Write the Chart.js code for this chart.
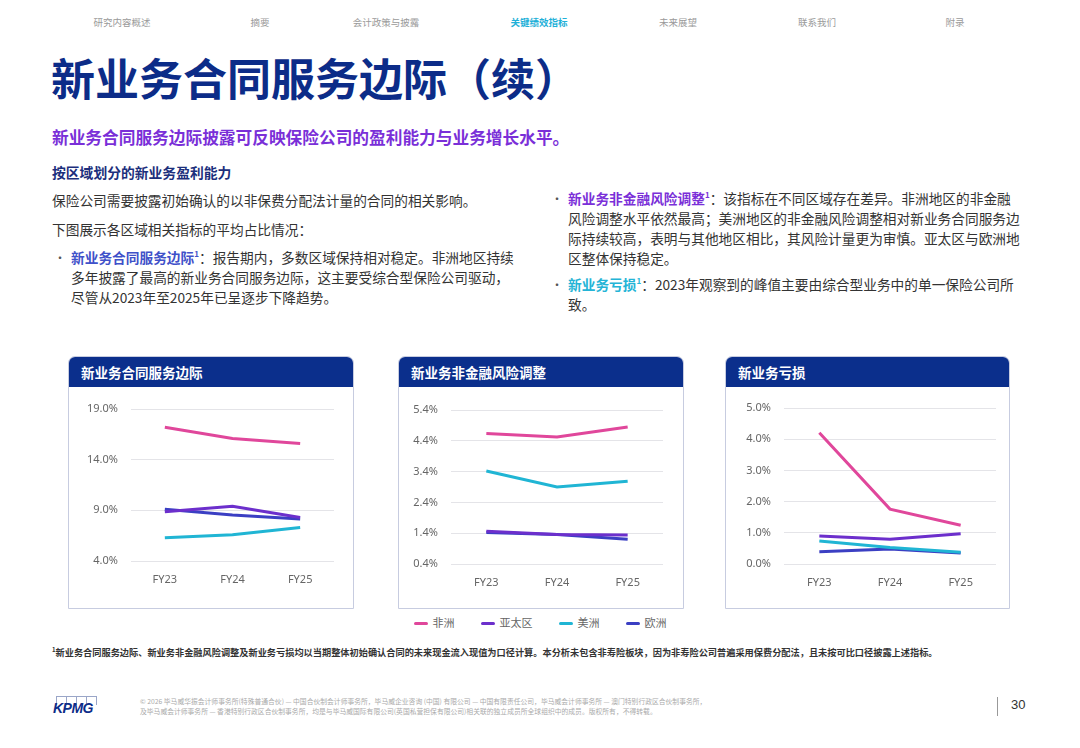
<!DOCTYPE html>
<html>
<head>
<meta charset="utf-8">
<script src="https://cdn.jsdelivr.net/npm/chart.js@4.4.1/dist/chart.umd.min.js"></script>
<style>
  html, body { margin: 0; padding: 0; background: #fff; }
  body { width: 1080px; height: 748px; position: relative; overflow: hidden;
         font-family: "Noto Sans CJK SC", "Noto Sans", sans-serif; color: #333; }
  .abs { position: absolute; white-space: nowrap; }
  .nav { top: 15px; font-size: 9.5px; color: #9a9a9a; transform: translateX(-50%); }
  .nav.on { color: #1eb0d8; font-weight: bold; }
  h1 { position: absolute; left: 51px; top: 45px; margin: 0; font-size: 44px; font-weight: bold;
       color: #0c2c88; }
  .sub { left: 52px; top: 125px; font-size: 16.7px; font-weight: bold; color: #7a2fd8; }
  .h3 { left: 52px; top: 162px; font-size: 13.8px; font-weight: bold; color: #1c2f7c; }
  .txt { font-size: 13.7px; line-height: 20px; color: #333; }
  .dot { position: absolute; font-size: 12px; color: #555; }
  .blue { color: #3f51c9; font-weight: bold; }
  .purp { color: #7a2fd8; font-weight: bold; }
  .cyan { color: #24b4d6; font-weight: bold; }
  sup { font-size: 8px; vertical-align: 6px; line-height: 0; }
  .card { position: absolute; top: 356px; height: 251px; border: 1px solid #c7cce0;
          border-radius: 7px 7px 0 0; background: #fff; }
  .card .hd { height: 30px; background: #0b2f8c; border-radius: 6px 6px 0 0; color: #fff;
              font-size: 13.5px; font-weight: bold; line-height: 30px; padding-left: 12px; }
  .card canvas { position: absolute; left: 0; top: 31px; }
  #legend { left: 0; width: 1080px; top: 614px; text-align: center; font-size: 11px; color: #666; }
  #legend span.it { display: inline-block; margin: 0 13px; }
  #legend i { display: inline-block; width: 14px; height: 3px; border-radius: 2px; vertical-align: middle; margin-right: 5px; position: relative; top: -1px; }
  .foot { left: 52px; top: 645px; font-size: 9.2px; color: #333; font-weight: bold; }
  .legal { left: 140px; font-size: 6.8px; color: #aaa; }
</style>
</head>
<body>
<div class="abs nav" style="left:122px">研究内容概述</div>
<div class="abs nav" style="left:260px">摘要</div>
<div class="abs nav" style="left:386px">会计政策与披露</div>
<div class="abs nav on" style="left:539px">关键绩效指标</div>
<div class="abs nav" style="left:678px">未来展望</div>
<div class="abs nav" style="left:817px">联系我们</div>
<div class="abs nav" style="left:955px">附录</div>

<h1>新业务合同服务边际（续）</h1>
<div class="abs sub">新业务合同服务边际披露可反映保险公司的盈利能力与业务增长水平。</div>
<div class="abs h3">按区域划分的新业务盈利能力</div>
<div class="abs txt" style="left:52px; top:190px">保险公司需要披露初始确认的以非保费分配法计量的合同的相关影响。</div>
<div class="abs txt" style="left:52px; top:219px">下图展示各区域相关指标的平均占比情况：</div>
<div class="dot" style="left:54px; top:249px">•</div>
<div class="abs txt" style="left:71px; top:247px"><span class="blue">新业务合同服务边际<sup>1</sup></span>：报告期内，多数区域保持相对稳定。非洲地区持续<br>多年披露了最高的新业务合同服务边际，这主要受综合型保险公司驱动，<br>尽管从2023年至2025年已呈逐步下降趋势。</div>

<div class="dot" style="left:551px; top:190px">•</div>
<div class="abs txt" style="left:568px; top:188px"><span class="purp">新业务非金融风险调整<sup>1</sup></span>：该指标在不同区域存在差异。非洲地区的非金融<br>风险调整水平依然最高；美洲地区的非金融风险调整相对新业务合同服务边<br>际持续较高，表明与其他地区相比，其风险计量更为审慎。亚太区与欧洲地<br>区整体保持稳定。</div>
<div class="dot" style="left:551px; top:276px">•</div>
<div class="abs txt" style="left:568px; top:274px"><span class="cyan">新业务亏损<sup>1</sup></span>：2023年观察到的峰值主要由综合型业务中的单一保险公司所<br>致。</div>

<div class="card" style="left:68px; width:284px"><div class="hd">新业务合同服务边际</div><canvas id="c1"></canvas></div>
<div class="card" style="left:398px; width:284px"><div class="hd">新业务非金融风险调整</div><canvas id="c2"></canvas></div>
<div class="card" style="left:725px; width:283px"><div class="hd">新业务亏损</div><canvas id="c3"></canvas></div>

<div class="abs" id="legend"></div>

<div class="abs foot"><sup style="font-size:6px;vertical-align:4px">1</sup>新业务合同服务边际、新业务非金融风险调整及新业务亏损均以当期整体初始确认合同的未来现金流入现值为口径计算。本分析未包含非寿险板块，因为非寿险公司普遍采用保费分配法，且未按可比口径披露上述指标。</div>

<div class="abs" style="left:55px; top:696px; width:44px; height:9px;">
  <div style="position:absolute;left:1px;top:0;width:9px;height:8px;border:1px solid #9aa6c8;border-bottom:none"></div>
  <div style="position:absolute;left:11px;top:0;width:9px;height:8px;border:1px solid #9aa6c8;border-bottom:none"></div>
  <div style="position:absolute;left:21px;top:0;width:9px;height:8px;border:1px solid #9aa6c8;border-bottom:none"></div>
  <div style="position:absolute;left:31px;top:0;width:9px;height:8px;border:1px solid #9aa6c8;border-bottom:none"></div>
</div>
<div class="abs" style="left:53px; top:700px; font-size:14px; font-weight:bold; font-style:italic; color:#0c2c88; font-family:'Liberation Sans', Arial, sans-serif; letter-spacing:-0.5px">KPMG</div>
<div class="abs legal" style="top:696px">© 2026 毕马威华振会计师事务所(特殊普通合伙) — 中国合伙制会计师事务所，毕马威企业咨询 (中国) 有限公司 — 中国有限责任公司，毕马威会计师事务所 — 澳门特别行政区合伙制事务所，</div>
<div class="abs legal" style="top:706px">及毕马威会计师事务所 — 香港特别行政区合伙制事务所，均是与毕马威国际有限公司(英国私营担保有限公司)相关联的独立成员所全球组织中的成员。版权所有，不得转载。</div>
<div class="abs" style="left:997px; top:697px; width:1px; height:19px; background:#999"></div>
<div class="abs" style="left:1011px; top:697px; font-size:13px; color:#333; font-family:'Liberation Sans', sans-serif">30</div>

<script>
const years = ['FY23', 'FY24', 'FY25'];
const regions = ['非洲', '亚太区', '美洲', '欧洲'];
const colors = ['#e0479b', '#6c2fcc', '#20b5d4', '#3b3fc3'];

// 新业务合同服务边际 (%)
const csmAfrica = [17.2, 16.1, 15.6];
const csmApac = [8.85, 9.4, 8.3];
const csmAmericas = [6.3, 6.6, 7.3];
const csmEurope = [9.1, 8.55, 8.15];
const csmTicks = [4, 9, 14, 19];

// 新业务非金融风险调整 (%)
const raAfrica = [4.64, 4.52, 4.85];
const raApac = [1.46, 1.36, 1.34];
const raAmericas = [3.42, 2.9, 3.09];
const raEurope = [1.42, 1.36, 1.2];
const raTicks = [0.4, 1.4, 2.4, 3.4, 4.4, 5.4];

// 新业务亏损 (%)
const lossAfrica = [4.21, 1.76, 1.24];
const lossApac = [0.9, 0.79, 0.97];
const lossAmericas = [0.74, 0.53, 0.38];
const lossEurope = [0.39, 0.48, 0.35];
const lossTicks = [0, 1, 2, 3, 4, 5];

const legend = document.getElementById('legend');
legend.innerHTML = regions.map((r, i) =>
    '<span class="it"><i style="background:' + colors[i] + '"></i>' + r + '</span>').join('');

function makeChart(id, series, ticks, yWidth, padRight, padTop, xHeight) {
    const canvas = document.getElementById(id);
    canvas.style.width = canvas.parentNode.clientWidth + 'px';
    canvas.style.height = '219px';
    new Chart(canvas.getContext('2d'), {
        type: 'line',
        data: {
            labels: years,
            datasets: series.map((s, i) => ({
                label: regions[i],
                data: s,
                borderColor: colors[i],
                backgroundColor: colors[i],
                borderWidth: 3,
                pointRadius: 0,
                tension: 0
            }))
        },
        options: {
            responsive: false,
            animation: false,
            layout: { padding: { top: padTop, right: padRight, left: 0, bottom: 0 } },
            scales: {
                x: {
                    offset: true,
                    grid: { display: false },
                    border: { display: false },
                    ticks: { color: '#666', font: { size: 11, family: 'Noto Sans' }, padding: 4 },
                    afterFit: (scale) => { scale.height = xHeight; }
                },
                y: {
                    min: ticks[0],
                    max: ticks[ticks.length - 1],
                    border: { display: false },
                    grid: { color: '#e4e4e8', drawTicks: false },
                    afterBuildTicks: (scale) => { scale.ticks = ticks.map(v => ({ value: v })); },
                    ticks: {
                        color: '#666',
                        padding: 13,
                        font: { size: 11, family: 'Noto Sans' },
                        callback: (v) => v.toFixed(1) + '%'
                    },
                    afterFit: (scale) => { scale.width = yWidth; }
                }
            },
            plugins: { legend: { display: false }, tooltip: { enabled: false } }
        }
    });
}

makeChart('c1', [csmAfrica, csmApac, csmAmericas, csmEurope], csmTicks, 62, 19, 21, 46);
makeChart('c2', [raAfrica, raApac, raAmericas, raEurope], raTicks, 52, 20, 22, 43);
makeChart('c3', [lossAfrica, lossApac, lossAmericas, lossEurope], lossTicks, 58, 13, 20, 43);
</script>
</body>
</html>
